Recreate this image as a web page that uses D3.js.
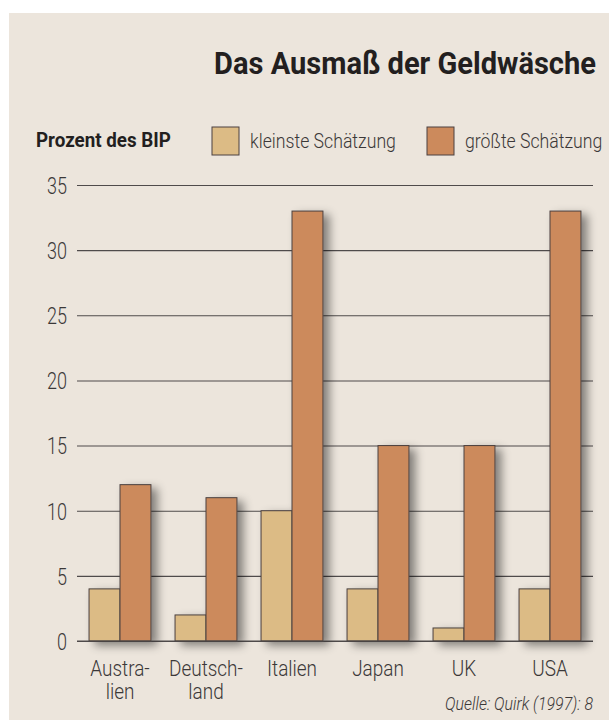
<!DOCTYPE html>
<html>
<head>
<meta charset="utf-8">
<script src="https://cdn.jsdelivr.net/npm/d3@7"></script>
<style>
  html, body { margin: 0; padding: 0; background: #ffffff; }
  svg { display: block; }
  text { font-family: Roboto, "DejaVu Sans Condensed", sans-serif; }
</style>
</head>
<body>
<svg id="chart"></svg>
<script>
// data
const countries = ["Australien", "Deutschland", "Italien", "Japan", "UK", "USA"];
const countryLabels = [["Austra-", "lien"], ["Deutsch-", "land"], ["Italien"], ["Japan"], ["UK"], ["USA"]];
const smallest = [4, 2, 10, 4, 1, 4];
const largest = [12, 11, 33, 15, 15, 33];
const seriesNames = ["kleinste Schätzung", "größte Schätzung"];
const yTicks = [0, 5, 10, 15, 20, 25, 30, 35];

const width = 609;
const height = 720;
const marginLeft = 77;
const marginRight = 16;
const y0 = 641;
const y35 = 185;
const colors = ["#dcbb85", "#cc8a5c"];
const ink = "#3b3838";
const dark = "#231f1f";

const svg = d3.select("#chart")
  .attr("width", width)
  .attr("height", height)
  .attr("viewBox", [0, 0, width, height]);

// the original uses a condensed face: squeeze text horizontally
// so that a sample string gets the width it has in the picture
const squeeze = (sel, target) => {
  const w = sel.node().getComputedTextLength();
  return target / w;
};
const place = (sel, x, y, sx) => sel.attr("transform", `translate(${x},${y}) scale(${sx},1)`);

// soft shadow behind the bars
const defs = svg.append("defs");
defs.append("filter")
    .attr("id", "shadow")
    .attr("x", "-30%").attr("y", "-10%")
    .attr("width", "180%").attr("height", "130%")
  .append("feDropShadow")
    .attr("dx", 6).attr("dy", 4)
    .attr("stdDeviation", 5)
    .attr("flood-color", "#000")
    .attr("flood-opacity", 0.45);

// panel
svg.append("rect")
  .attr("x", 9).attr("y", 13)
  .attr("width", width - 9).attr("height", height - 13)
  .attr("fill", "#ece5dc");

// title
const title = svg.append("text")
  .attr("text-anchor", "end")
  .attr("font-weight", 700)
  .attr("font-size", 32)
  .attr("fill", dark)
  .text("Das Ausmaß der Geldwäsche");
place(title, 596, 74, squeeze(title, 382));

// legend
const unit = svg.append("text")
  .attr("font-weight", 700)
  .attr("font-size", 20)
  .attr("fill", dark)
  .text("Prozent des BIP");
place(unit, 36, 147, squeeze(unit, 135));

const legendX = [212, 427];
const legend = svg.append("g").selectAll("g")
  .data(seriesNames)
  .join("g")
    .attr("transform", (d, i) => `translate(${legendX[i]},127)`);
legend.append("rect")
  .attr("width", 27).attr("height", 28)
  .attr("fill", (d, i) => colors[i])
  .attr("stroke", "#4a4040")
  .attr("stroke-width", 1);
const legendText = legend.append("text")
  .attr("font-size", 21)
  .attr("font-weight", 300)
  .attr("fill", ink)
  .text(d => d);
const lightSx = squeeze(legendText.filter((d, i) => i === 0), 146);
legendText.each(function () { place(d3.select(this), 38, 21, lightSx); });

// scales
const x = d3.scaleBand()
  .domain(countries)
  .range([marginLeft, width - marginRight])
  .paddingInner(0.28)
  .paddingOuter(0.14);
const xSub = d3.scaleBand()
  .domain([0, 1])
  .range([0, x.bandwidth()]);
const y = d3.scaleLinear()
  .domain([0, 35])
  .range([y0, y35]);

// grid + y labels
const yAxis = d3.axisLeft(y)
  .tickValues(yTicks)
  .tickSize(-(width - marginRight - marginLeft))
  .tickPadding(0)
  .tickFormat(d3.format("d"));
const yG = svg.append("g")
  .attr("transform", `translate(${marginLeft},0)`)
  .call(yAxis)
  .call(g => g.select(".domain").remove())
  .call(g => g.selectAll(".tick line").attr("stroke", "#4f4b4b").attr("stroke-width", 1.1));
const tickText = yG.selectAll(".tick text")
  .attr("font-family", null)
  .attr("font-size", 24)
  .attr("font-weight", 300)
  .attr("fill", ink)
  .attr("x", null)
  .attr("dy", "0.35em");
const tickSx = squeeze(tickText.filter(d => d === 35), 20);
tickText.attr("transform", `translate(-10,0) scale(${tickSx},1)`);

// bars
const groups = svg.append("g")
  .selectAll("g")
  .data(countries)
  .join("g")
    .attr("transform", d => `translate(${x(d)},0)`)
    .attr("filter", "url(#shadow)");

groups.selectAll("rect")
  .data((d, i) => [smallest[i], largest[i]])
  .join("rect")
    .attr("x", (d, j) => xSub(j))
    .attr("y", d => y(d))
    .attr("width", xSub.bandwidth())
    .attr("height", d => y(0) - y(d))
    .attr("fill", (d, j) => colors[j])
    .attr("stroke", "#4a4040")
    .attr("stroke-width", 1);

// zero line over the bar bottoms
svg.append("line")
  .attr("x1", marginLeft).attr("x2", width - marginRight)
  .attr("y1", y(0)).attr("y2", y(0))
  .attr("stroke", "#4f4b4b").attr("stroke-width", 1.1);

// x labels
const xLabels = svg.append("g")
  .selectAll("text")
  .data(countries)
  .join("text")
    .attr("text-anchor", "middle")
    .attr("font-size", 22.5)
    .attr("font-weight", 300)
    .attr("fill", ink);
xLabels.selectAll("tspan")
  .data((d, i) => countryLabels[i])
  .join("tspan")
    .attr("x", 0)
    .attr("dy", (d, k) => k === 0 ? 0 : 23)
    .text(d => d);
xLabels.each(function (d) { place(d3.select(this), x(d) + x.bandwidth() / 2, 676, lightSx); });

// source
const source = svg.append("text")
  .attr("text-anchor", "end")
  .attr("font-style", "italic")
  .attr("font-weight", 300)
  .attr("font-size", 19)
  .attr("fill", ink)
  .text("Quelle: Quirk (1997): 8");
place(source, 593, 710, squeeze(source, 148));
</script>
</body>
</html>
